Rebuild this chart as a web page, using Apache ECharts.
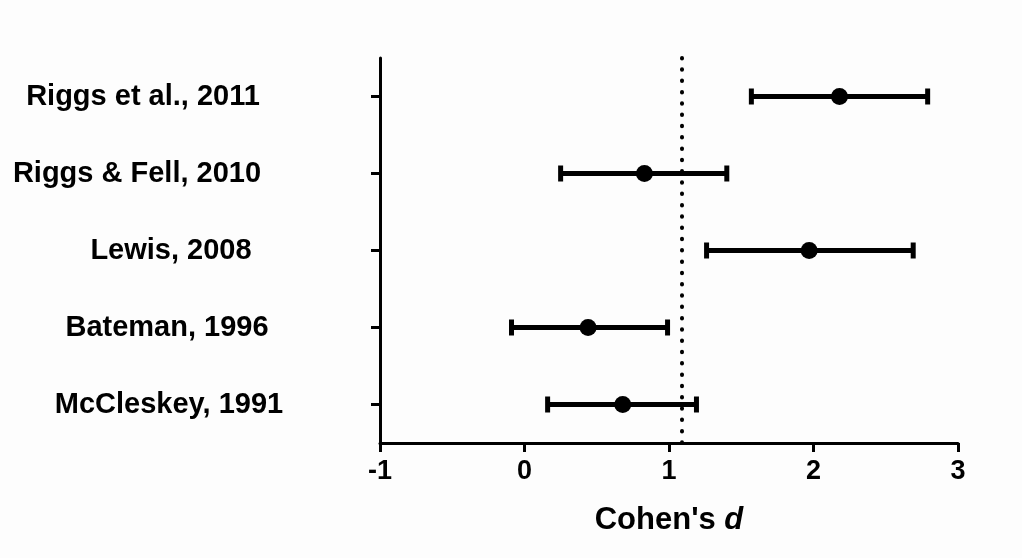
<!DOCTYPE html>
<html>
<head>
<meta charset="utf-8">
<script src="https://cdn.jsdelivr.net/npm/echarts@6/dist/echarts.min.js"></script>
<style>
  html, body { margin: 0; padding: 0; background: #fdfdfd; }
  #chart { width: 1022px; height: 558px; }
</style>
</head>
<body>
<div id="chart"></div>
<script>
// studies, top to bottom
const studies = ['Riggs et al., 2011', 'Riggs & Fell, 2010', 'Lewis, 2008', 'Bateman, 1996', 'McCleskey, 1991']
const effect = [2.18, 0.83, 1.97, 0.44, 0.68]
const ciLow = [1.57, 0.25, 1.26, -0.09, 0.16]
const ciHigh = [2.79, 1.40, 2.69, 0.99, 1.19]
const refLine = 1.09
const xTicks = [-1, 0, 1, 2, 3]

const font = 'Liberation Sans, Arial, sans-serif'
// horizontal nudge of each study label (the source centres them unevenly)
const labelShift = [-12, -18, 16, 12, 14]

const chart = echarts.init(document.getElementById('chart'))

// error bar data: [low, high, index]
const barData = studies.map((s, i) => [ciLow[i], ciHigh[i], i])
const pointData = studies.map((s, i) => [effect[i], i])

const renderBar = (params, api) => {
  const y = api.coord([0, api.value(2)])[1]
  const x1 = api.coord([api.value(0), api.value(2)])[0]
  const x2 = api.coord([api.value(1), api.value(2)])[0]
  const h = 8
  return {
    type: 'group',
    children: [
      { type: 'line', shape: { x1: x1, y1: y, x2: x2, y2: y }, style: { stroke: '#000', lineWidth: 5 } },
      { type: 'line', shape: { x1: x1, y1: y - h, x2: x1, y2: y + h }, style: { stroke: '#000', lineWidth: 5 } },
      { type: 'line', shape: { x1: x2, y1: y - h, x2: x2, y2: y + h }, style: { stroke: '#000', lineWidth: 5 } }
    ]
  }
}

const labelRich = {}
labelShift.forEach((d, i) => {
  labelRich['s' + i] = {
    fontFamily: font, fontWeight: 'bold', fontSize: 29, color: '#000',
    padding: d > 0 ? [0, 0, 0, 2 * d] : [0, -2 * d, 0, 0]
  }
})

const option = {
  backgroundColor: '#fdfdfd',
  animation: false,
  grid: { left: 380, right: 64, top: 58, bottom: 115 },
  xAxis: {
    type: 'value',
    min: xTicks[0],
    max: xTicks[xTicks.length - 1],
    interval: 1,
    splitLine: { show: false },
    axisLine: { show: true, onZero: false, lineStyle: { color: '#000', width: 3 } },
    axisTick: { show: true, length: 9, lineStyle: { color: '#000', width: 3 } },
    axisLabel: {
      color: '#000', fontFamily: font, fontWeight: 'bold', fontSize: 27, margin: 15
    },
    name: "Cohen's {i|d}",
    nameLocation: 'middle',
    nameGap: 62,
    nameTextStyle: {
      color: '#000', fontFamily: font, fontWeight: 'bold', fontSize: 31,
      rich: { i: { fontFamily: font, fontWeight: 'bold', fontStyle: 'italic', fontSize: 31, color: '#000' } }
    }
  },
  yAxis: {
    type: 'category',
    data: studies,
    inverse: true,
    axisLine: { show: true, onZero: false, lineStyle: { color: '#000', width: 3 } },
    axisTick: { show: true, alignWithLabel: true, length: 9, lineStyle: { color: '#000', width: 3 } },
    axisLabel: {
      color: '#000', fontFamily: font, fontWeight: 'bold', fontSize: 29,
      align: 'center', margin: 225,
      formatter: (value, index) => '{s' + index + '|' + value + '}',
      rich: labelRich
    }
  },
  series: [
    {
      type: 'custom',
      renderItem: renderBar,
      encode: { x: [0, 1], y: 2 },
      data: barData,
      z: 3
    },
    {
      type: 'scatter',
      data: pointData,
      symbol: 'circle',
      symbolSize: 17,
      itemStyle: { color: '#000', opacity: 1 },
      z: 4,
      markLine: {
        silent: true,
        symbol: 'none',
        label: { show: false },
        lineStyle: { color: '#000', width: 4, type: [0.5, 10.8], cap: 'round', opacity: 1 },
        data: [{ xAxis: refLine }]
      }
    }
  ]
}

chart.setOption(option)
</script>
</body>
</html>
